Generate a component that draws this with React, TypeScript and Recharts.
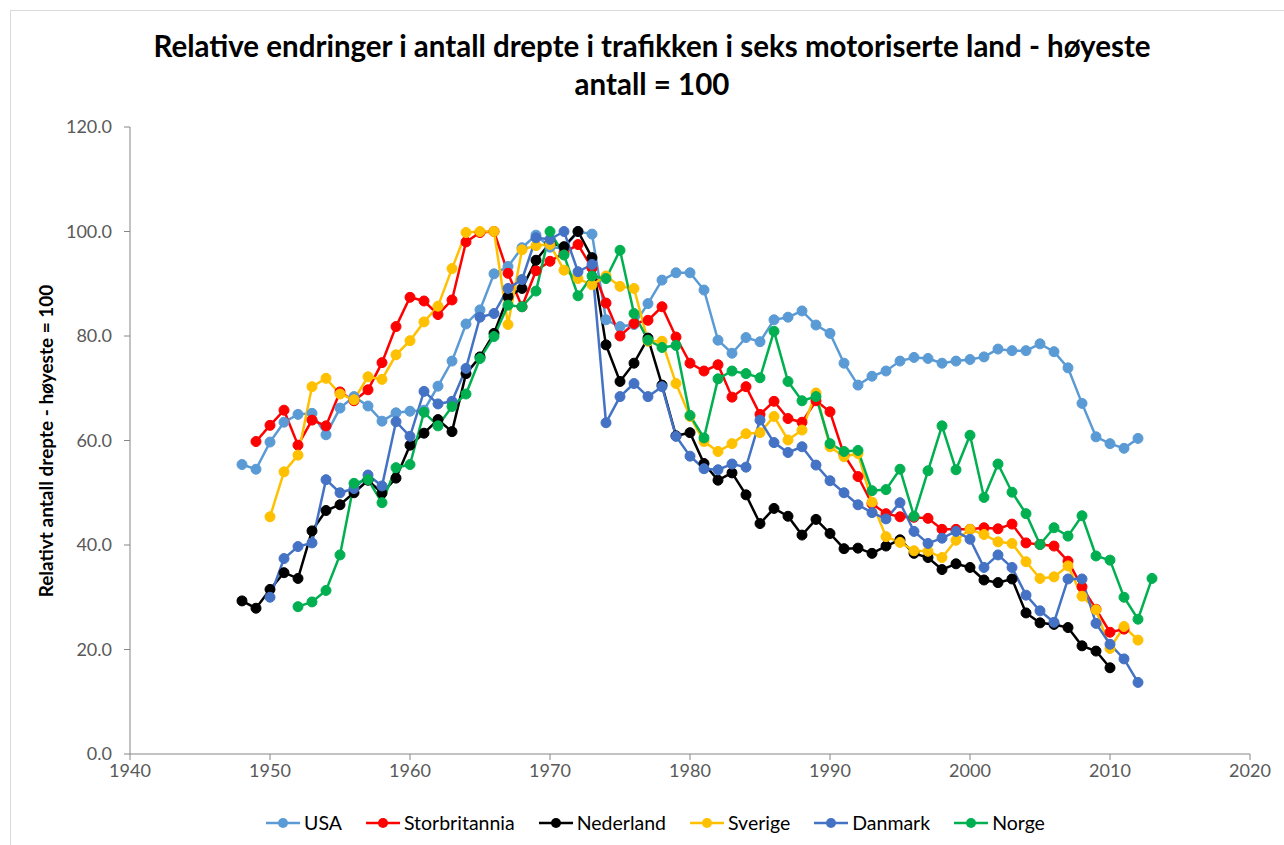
import { LineChart, Line, XAxis, YAxis } from 'recharts';

// years 1948..2013
const years = [
  1948, 1949, 1950, 1951, 1952, 1953, 1954, 1955, 1956, 1957, 1958, 1959,
  1960, 1961, 1962, 1963, 1964, 1965, 1966, 1967, 1968, 1969, 1970, 1971,
  1972, 1973, 1974, 1975, 1976, 1977, 1978, 1979, 1980, 1981, 1982, 1983,
  1984, 1985, 1986, 1987, 1988, 1989, 1990, 1991, 1992, 1993, 1994, 1995,
  1996, 1997, 1998, 1999, 2000, 2001, 2002, 2003, 2004, 2005, 2006, 2007,
  2008, 2009, 2010, 2011, 2012, 2013,
];

const usa = [
  55.4, 54.5, 59.7, 63.5, 65.0, 65.2, 61.1, 66.2, 68.4, 66.6, 63.7, 65.3,
  65.6, 65.8, 70.4, 75.2, 82.3, 85.0, 91.9, 93.3, 96.9, 99.3, 97.0, 96.8,
  100.0, 99.5, 83.1, 81.8, 82.2, 86.2, 90.7, 92.1, 92.1, 88.8, 79.2, 76.7,
  79.7, 78.9, 83.1, 83.6, 84.8, 82.1, 80.5, 74.8, 70.6, 72.3, 73.3, 75.2,
  75.9, 75.7, 74.8, 75.2, 75.5, 76.0, 77.5, 77.2, 77.2, 78.5, 77.0, 73.9,
  67.1, 60.7, 59.4, 58.5, 60.4, null,
];

const storbritannia = [
  null, 59.8, 62.9, 65.8, 59.1, 63.9, 62.8, 69.3, 67.6, 69.7, 74.9, 81.8,
  87.4, 86.7, 84.1, 86.9, 98.0, 99.8, 100.0, 92.0, 85.6, 92.5, 94.3, 95.9,
  97.5, 93.0, 86.3, 80.0, 82.4, 83.0, 85.6, 79.8, 74.8, 73.3, 74.5, 68.3,
  70.3, 65.0, 67.5, 64.2, 63.5, 67.6, 65.5, 57.3, 53.1, 47.9, 46.0, 45.4,
  45.3, 45.1, 43.0, 43.0, 43.0, 43.3, 43.1, 44.0, 40.4, 40.1, 39.8, 36.9,
  32.0, 27.7, 23.3, 23.9, null, null,
];

const nederland = [
  29.3, 27.9, 31.5, 34.7, 33.6, 42.7, 46.6, 47.7, 50.0, 52.4, 49.9, 52.8,
  59.1, 61.4, 64.0, 61.7, 72.8, 76.0, 80.5, 87.5, 89.1, 94.5, 97.8, 97.1,
  100.0, 95.0, 78.3, 71.3, 74.8, 79.6, 70.6, 60.9, 61.5, 55.6, 52.4, 53.8,
  49.6, 44.1, 47.0, 45.5, 41.9, 44.9, 42.2, 39.3, 39.4, 38.4, 39.8, 41.0,
  38.4, 37.6, 35.3, 36.4, 35.7, 33.3, 32.8, 33.5, 27.0, 25.1, 24.8, 24.2,
  20.7, 19.7, 16.5, null, null, null,
];

const sverige = [
  null, null, 45.4, 54.0, 57.2, 70.3, 71.9, 68.9, 67.8, 72.2, 71.7, 76.4,
  79.1, 82.7, 85.7, 92.9, 99.8, 100.0, 100.0, 82.2, 96.5, 97.3, 97.5, 92.6,
  91.0, 89.8, 91.5, 89.5, 89.1, 79.0, 79.0, 70.9, 64.6, 59.8, 57.9, 59.4,
  61.3, 61.5, 64.6, 60.1, 62.0, 69.1, 58.8, 56.9, 57.5, 48.2, 41.6, 40.5,
  38.9, 38.8, 37.6, 40.9, 43.0, 42.0, 40.6, 40.3, 36.8, 33.6, 33.9, 36.0,
  30.2, 27.6, 20.2, 24.4, 21.8, null,
];

const danmark = [
  null, null, 30.0, 37.4, 39.7, 40.4, 52.5, 50.0, 50.8, 53.4, 51.3, 63.6,
  60.8, 69.4, 67.0, 67.5, 73.8, 83.6, 84.3, 89.1, 90.8, 98.8, 98.5, 100.0,
  92.3, 93.7, 63.4, 68.4, 70.9, 68.4, 70.3, 60.8, 57.0, 54.6, 54.4, 55.5,
  54.9, 63.9, 59.6, 57.7, 58.8, 55.3, 52.3, 50.0, 47.7, 46.2, 45.0, 48.1,
  42.6, 40.3, 41.3, 42.6, 41.1, 35.7, 38.1, 35.7, 30.4, 27.4, 25.2, 33.5,
  33.5, 25.0, 21.0, 18.2, 13.7, null,
];

const norge = [
  null, null, null, null, 28.2, 29.1, 31.3, 38.1, 51.8, 52.5, 48.1, 54.8,
  55.4, 65.4, 62.8, 66.5, 68.9, 75.7, 79.9, 85.9, 85.6, 88.6, 100.0, 95.5,
  87.7, 91.5, 91.0, 96.4, 84.3, 79.2, 77.8, 78.2, 64.8, 60.5, 71.8, 73.3,
  72.8, 72.0, 80.9, 71.3, 67.6, 68.4, 59.4, 57.9, 58.1, 50.4, 50.6, 54.5,
  45.5, 54.2, 62.8, 54.4, 61.0, 49.1, 55.5, 50.1, 46.0, 40.1, 43.3, 41.7,
  45.6, 37.9, 37.1, 30.0, 25.8, 33.6,
];

const xTicks = [1940, 1950, 1960, 1970, 1980, 1990, 2000, 2010, 2020];
const yTicks = [0, 20, 40, 60, 80, 100, 120];

const series = [
  { key: 'USA', values: usa, color: '#5B9BD5' },
  { key: 'Storbritannia', values: storbritannia, color: '#FF0000' },
  { key: 'Nederland', values: nederland, color: '#000000' },
  { key: 'Sverige', values: sverige, color: '#FFC000' },
  { key: 'Danmark', values: danmark, color: '#4472C4' },
  { key: 'Norge', values: norge, color: '#00B050' },
];

const data = years.map((year, i) => {
  const row: Record<string, number | null> = { year };
  series.forEach(s => {
    row[s.key] = s.values[i];
  });
  return row;
});

const font = 'Lato, "Open Sans", sans-serif';
const tickStyle = { fill: '#595959', fontSize: 18, fontFamily: font };

export default function App() {
  return (
    <div
      style={{
        position: 'absolute',
        left: 0,
        top: 0,
        width: 1284,
        height: 845,
        background: '#fff',
        fontFamily: font,
        overflow: 'hidden',
      }}
    >
      {/* chart area border */}
      <div
        style={{
          position: 'absolute',
          left: 10,
          top: 10,
          width: 1274,
          height: 835,
          borderLeft: '1px solid #D9D9D9',
          borderTop: '1px solid #D9D9D9',
        }}
      />
      <div
        style={{
          position: 'absolute',
          left: 0,
          top: 27,
          width: 1304,
          textAlign: 'center',
          fontWeight: 700,
          fontSize: 29.5,
          lineHeight: '38px',
          color: '#000',
        }}
      >
        Relative endringer i antall drepte i trafikken i seks motoriserte land - høyeste
        <br />
        antall = 100
      </div>
      <div
        style={{
          position: 'absolute',
          left: 45,
          top: 441,
          transform: 'translate(-50%, -50%) rotate(-90deg)',
          whiteSpace: 'nowrap',
          fontWeight: 700,
          fontSize: 19,
          color: '#000',
        }}
      >
        Relativt antall drepte - høyeste = 100
      </div>

      <div style={{ position: 'absolute', left: 0, top: 0 }}>
        <LineChart
          width={1284}
          height={845}
          data={data}
          margin={{ top: 127, right: 34, bottom: 61, left: 0 }}
        >
          <XAxis
            type="number"
            dataKey="year"
            domain={[1940, 2020]}
            ticks={xTicks}
            tick={tickStyle}
            tickSize={6}
            tickMargin={4}
            height={30}
            stroke="#868686"
            allowDataOverflow
          />
          <YAxis
            type="number"
            domain={[0, 120]}
            ticks={yTicks}
            tick={tickStyle}
            tickFormatter={(v: number) => v.toFixed(1)}
            tickSize={6}
            tickMargin={12}
            width={130}
            stroke="#868686"
          />
          {series.map(s => (
            <Line
              key={s.key}
              type="linear"
              dataKey={s.key}
              stroke={s.color}
              strokeWidth={2.5}
              dot={{ r: 5, fill: s.color, stroke: s.color, strokeWidth: 1 }}
              activeDot={false}
              isAnimationActive={false}
            />
          ))}
        </LineChart>
      </div>

      {/* legend */}
      <div
        style={{
          position: 'absolute',
          left: 0,
          top: 810,
          width: 1310,
          display: 'flex',
          justifyContent: 'center',
          gap: 23,
          fontSize: 19.5,
          lineHeight: '26px',
          color: '#000',
        }}
      >
        {series.map(s => (
          <div key={s.key} style={{ display: 'flex', alignItems: 'center' }}>
            <svg width={36} height={14} style={{ marginRight: 3 }}>
              <line x1={1} y1={7} x2={35} y2={7} stroke={s.color} strokeWidth={2.5} />
              <circle cx={18} cy={7} r={5} fill={s.color} />
            </svg>
            <span>{s.key}</span>
          </div>
        ))}
      </div>
    </div>
  );
}
